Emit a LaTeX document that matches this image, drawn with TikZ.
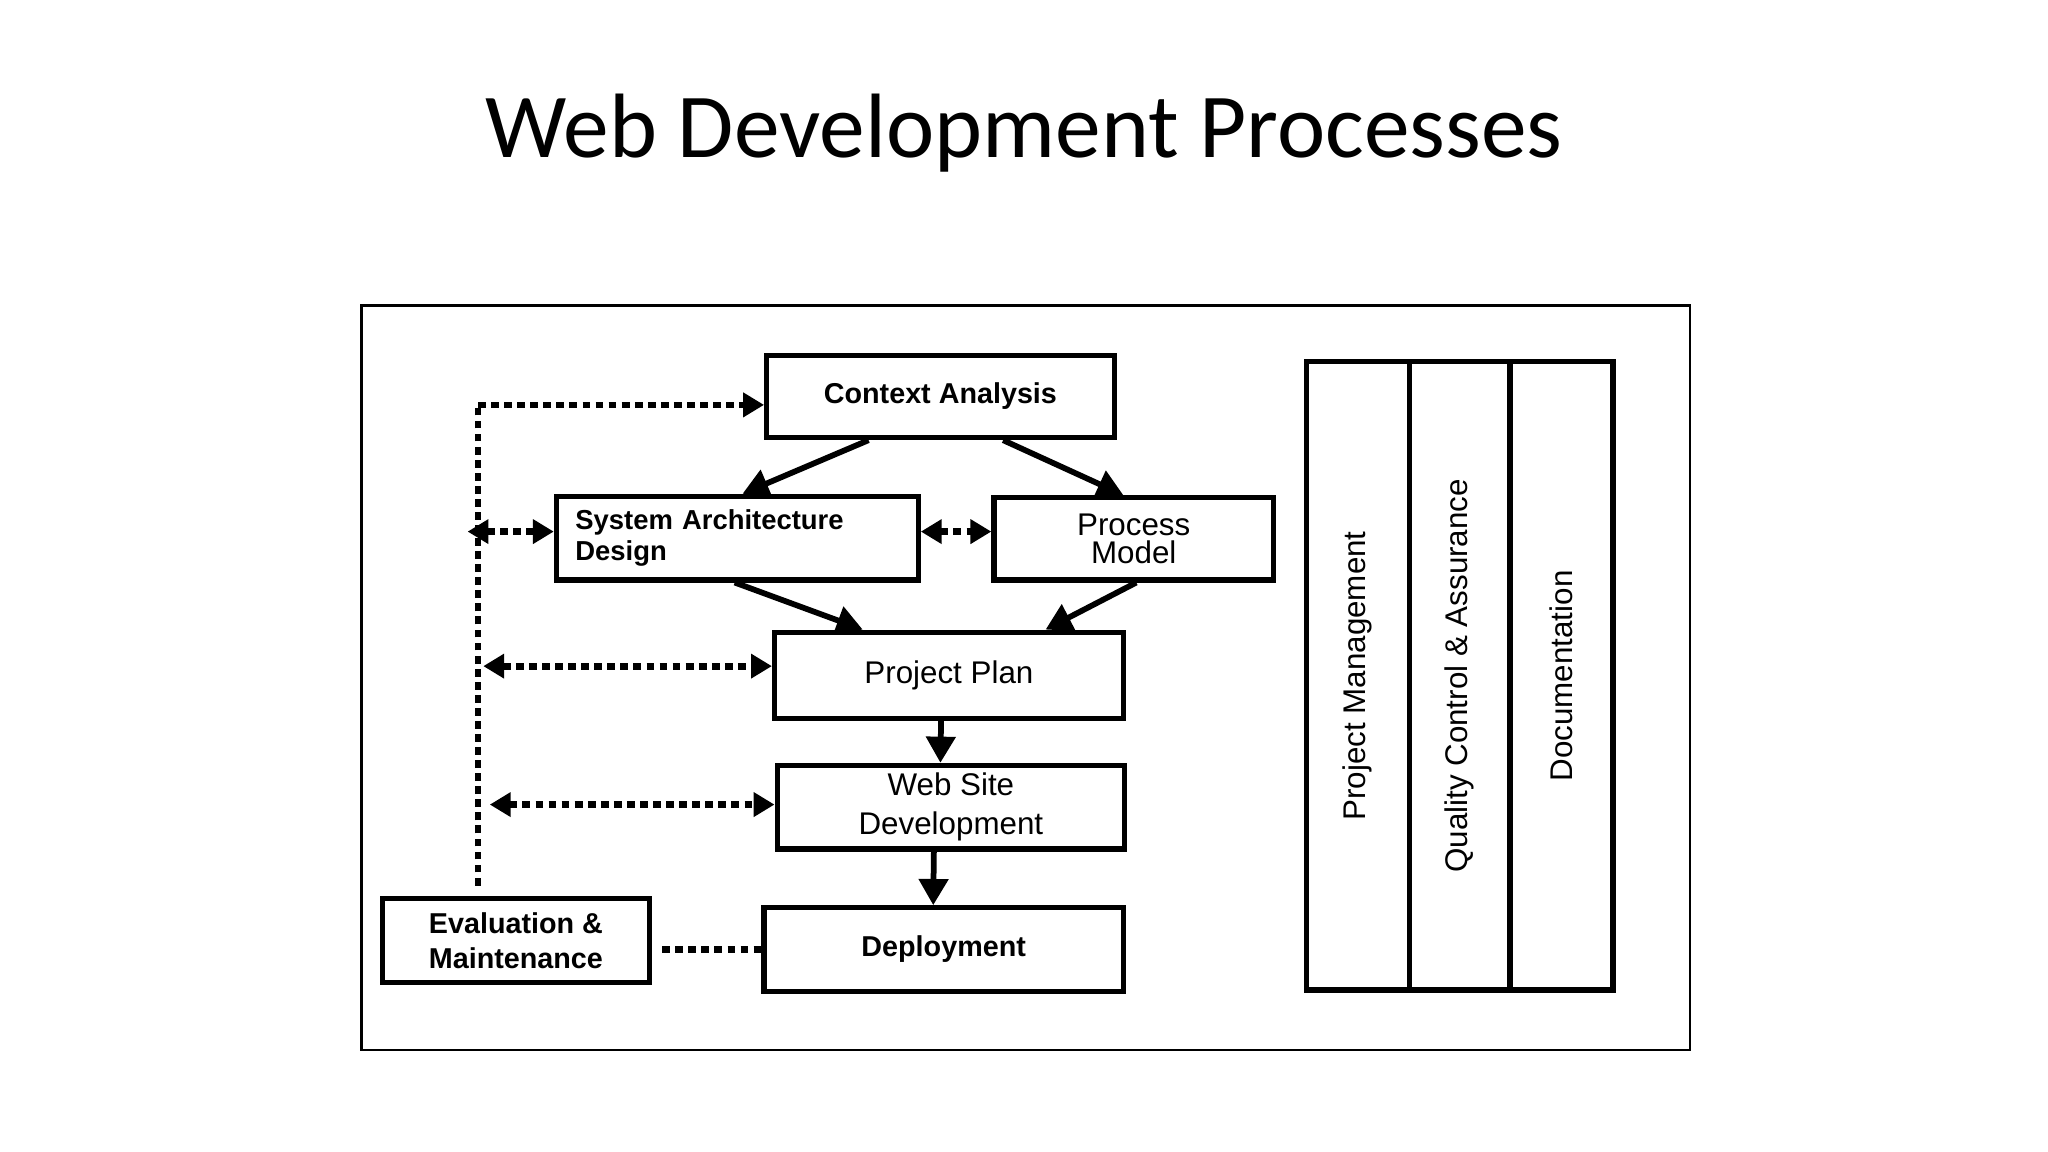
\documentclass[tikz,border=0pt]{standalone}
\usepackage{fontspec}
\setmainfont{Liberation Sans}
\newfontfamily\titlefont{Carlito}
\usetikzlibrary{arrows.meta}
\begin{document}
\begin{tikzpicture}[x=0.5pt,y=-0.5pt,
  box/.style={draw,line width=2pt,inner sep=0pt},
  flow/.style={line width=2.2pt,-{Triangle[length=10pt,width=11pt]}},
  dots/.style={line width=2.6pt,dash pattern=on 3pt off 2pt},
  dtip/.style={{Triangle[length=8pt,width=9pt]}-{Triangle[length=8pt,width=9pt]}},
  stip/.style={-{Triangle[length=8pt,width=9pt]}},
  bt/.style={font=\fontsize{11}{12}\selectfont\bfseries},
  nt/.style={font=\fontsize{12}{11}\selectfont}]
\useasboundingbox (0,0) rectangle (1568,882);
\node[font=\titlefont\fontsize{35}{42}\selectfont] (title) at (784,102) {Web Development Processes};
\node[draw,line width=1pt,minimum width=508.5pt,minimum height=285pt] (frame) at (785.5,519) {};
\node[box,bt,minimum width=133pt,minimum height=31.5pt] (ca) at (720,303.5) {Context Analysis};
\node[box,bt,minimum width=138.5pt,minimum height=32pt,text width=124pt,align=left,font=\fontsize{10.5}{12}\selectfont\bfseries] (sad) at (564.5,412) {System Architecture\\Design};
\node[box,nt,minimum width=107pt,minimum height=31.5pt,align=center,font=\fontsize{12}{10.5}\selectfont] (pm) at (868,412.5) {Process\\Model};
\node[box,nt,minimum width=133.5pt,minimum height=33pt] (pp) at (726.5,517) {Project Plan};
\node[box,nt,minimum width=133pt,minimum height=32pt,align=center,font=\fontsize{12}{15}\selectfont] (wsd) at (728,618) {Web Site\\Development};
\node[box,bt,minimum width=137.5pt,minimum height=32pt] (dep) at (722.5,727) {Deployment};
\node[box,bt,minimum width=102pt,minimum height=32pt,align=left,font=\fontsize{11}{13.5}\selectfont\bfseries] (em) at (395,720) {Evaluation \&\\Maintenance};
\node[box,rotate=90,nt,minimum width=240.5pt,minimum height=39.5pt] (c1) at (1039.5,517.5) {Project Management};
\node[box,rotate=90,nt,minimum width=240.5pt,minimum height=38.5pt] (c2) at (1117.5,517.5) {Quality Control \& Assurance};
\node[box,rotate=90,nt,minimum width=240.5pt,minimum height=39.5pt] (c3) at (1195.5,517.5) {Documentation};
\draw[flow] ([xshift=-27.5pt]ca.south) -- ([xshift=2pt]sad.north);
\draw[flow] ([xshift=24pt]ca.south) -- ([xshift=-4pt]pm.north);
\draw[flow] ([xshift=-1pt]sad.south) -- ([xshift=-33pt]pp.north);
\draw[flow] ([xshift=1pt]pm.south) -- ([xshift=37pt]pp.north);
\draw[flow] ([xshift=-3pt]pp.south) -- ([xshift=-4pt]wsd.north);
\draw[flow] ([xshift=-6.5pt]wsd.south) -- ([xshift=-4pt]dep.north);
\coordinate (vtop) at (366,310);
\coordinate (vbot) at (366,678);
\coordinate (l1) at (358,407);
\coordinate (l2) at (370,510);
\coordinate (l3) at (375,616);
\draw[dots] (vbot) -- (vtop);
\draw[dots,stip] (vtop) -- (ca.west |- vtop);
\draw[dots,dtip] (l1) -- (sad.west |- l1);
\draw[dots,dtip] (sad.east |- l1) -- (pm.west |- l1);
\draw[dots,dtip] (l2) -- (pp.west |- l2);
\draw[dots,dtip] (l3) -- (wsd.west |- l3);
\draw[dots] ([xshift=4pt]em.east |- dep.west) -- (dep.west);
\end{tikzpicture}
\end{document}
